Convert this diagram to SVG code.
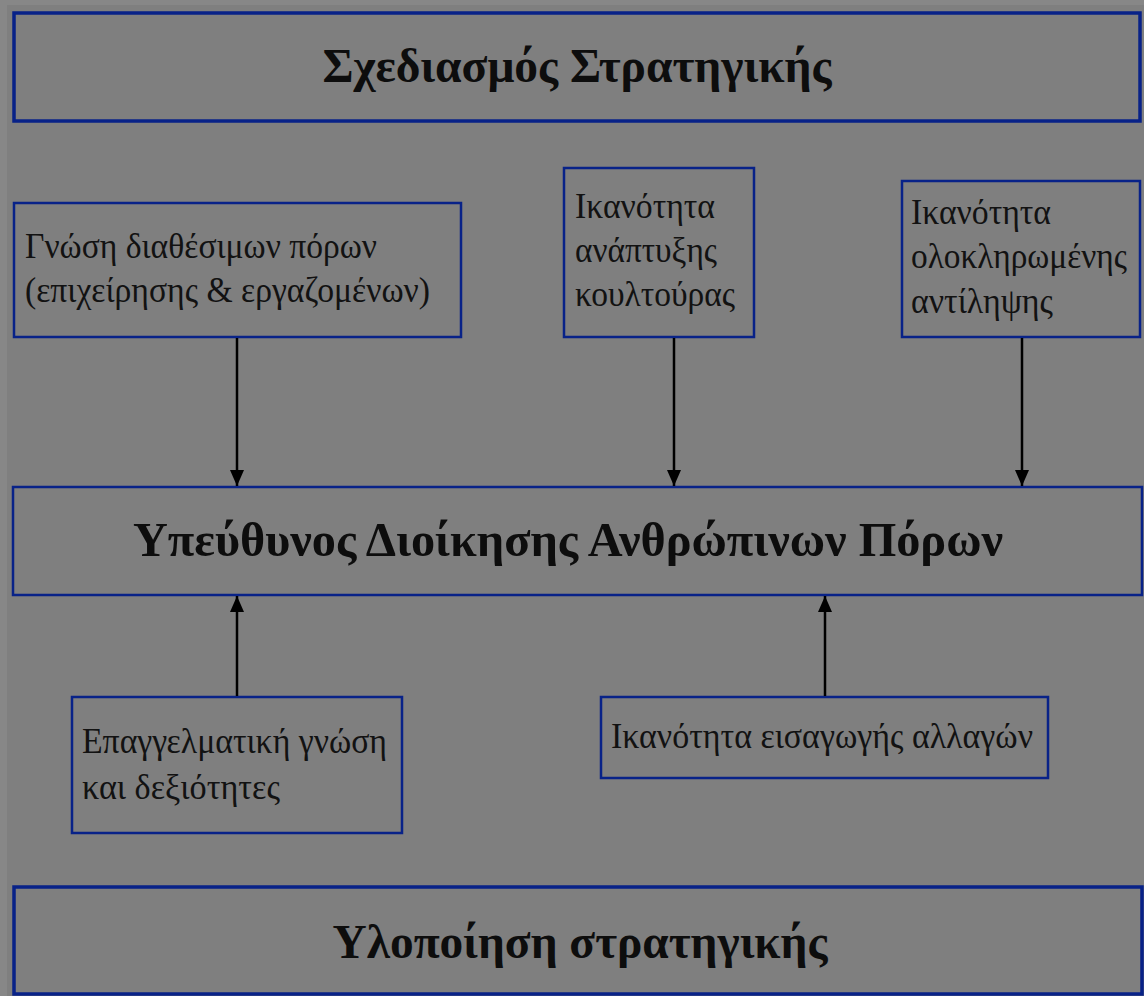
<svg xmlns="http://www.w3.org/2000/svg" width="1144" height="996" viewBox="0 0 1144 996">
  <style>
    .box { fill: #7f7f7f; stroke: #082288; stroke-width: 2.5; }
    .bar { fill: #7f7f7f; stroke: #082288; stroke-width: 3.5; }
    .title { font-family: "Liberation Serif", "Times New Roman", serif; font-weight: bold; font-size: 48px; fill: #0d0d0d; text-anchor: middle; }
    .label { font-family: "Liberation Serif", "Times New Roman", serif; font-size: 35px; fill: #121212; }
    .wire { stroke: #000; stroke-width: 2.5; fill: none; marker-end: url(#head); }
  </style>
  <defs>
    <marker id="head" viewBox="0 0 16 14" refX="16" refY="7" markerWidth="16" markerHeight="14" markerUnits="userSpaceOnUse" orient="auto">
      <path d="M0,0 L16,7 L0,14 Z" fill="#000"/>
    </marker>
  </defs>

  <!-- page -->
  <rect x="0" y="0" width="1144" height="996" fill="#7f7f7f"/>
  <rect x="0" y="0" width="1144" height="5" fill="#878787"/>
  <rect x="0" y="0" width="7" height="996" fill="#878787"/>

  <g id="planning">
    <rect class="bar" x="14" y="13" width="1126" height="108"/>
    <text class="title" x="577" y="82" textLength="509" lengthAdjust="spacingAndGlyphs">Σχεδιασμός Στρατηγικής</text>
  </g>

  <g id="resources">
    <rect class="box" x="14" y="203" width="447" height="134"/>
    <text class="label" x="25" y="258" textLength="352" lengthAdjust="spacingAndGlyphs">Γνώση διαθέσιμων πόρων</text>
    <text class="label" x="25" y="302" textLength="405" lengthAdjust="spacingAndGlyphs">(επιχείρησης &amp; εργαζομένων)</text>
  </g>

  <g id="culture">
    <rect class="box" x="564" y="168" width="190" height="169"/>
    <text class="label" x="575" y="218" textLength="140" lengthAdjust="spacingAndGlyphs">Ικανότητα</text>
    <text class="label" x="575" y="262" textLength="142" lengthAdjust="spacingAndGlyphs">ανάπτυξης</text>
    <text class="label" x="575" y="306" textLength="160" lengthAdjust="spacingAndGlyphs">κουλτούρας</text>
  </g>

  <g id="perception">
    <rect class="box" x="902" y="181" width="238" height="156"/>
    <text class="label" x="911" y="224" textLength="140" lengthAdjust="spacingAndGlyphs">Ικανότητα</text>
    <text class="label" x="911" y="268" textLength="216" lengthAdjust="spacingAndGlyphs">ολοκληρωμένης</text>
    <text class="label" x="911" y="313" textLength="142" lengthAdjust="spacingAndGlyphs">αντίληψης</text>
  </g>

  <g id="hr-manager">
    <rect class="box" x="13" y="487" width="1129" height="108"/>
    <text class="title" x="568" y="556" textLength="870" lengthAdjust="spacingAndGlyphs">Υπεύθυνος Διοίκησης Ανθρώπινων Πόρων</text>
  </g>

  <g id="skills">
    <rect class="box" x="72" y="697" width="330" height="136"/>
    <text class="label" x="82" y="753" textLength="305" lengthAdjust="spacingAndGlyphs">Επαγγελματική γνώση</text>
    <text class="label" x="82" y="799" textLength="198" lengthAdjust="spacingAndGlyphs">και δεξιότητες</text>
  </g>

  <g id="change">
    <rect class="box" x="601" y="697" width="447" height="81"/>
    <text class="label" x="611" y="748" textLength="422" lengthAdjust="spacingAndGlyphs">Ικανότητα εισαγωγής αλλαγών</text>
  </g>

  <g id="implementation">
    <rect class="bar" x="14" y="887" width="1128" height="107"/>
    <text class="title" x="580" y="958" textLength="495" lengthAdjust="spacingAndGlyphs">Υλοποίηση στρατηγικής</text>
  </g>

  <g id="connectors">
    <line class="wire" x1="237" y1="338" x2="237" y2="486"/>
    <line class="wire" x1="674" y1="338" x2="674" y2="486"/>
    <line class="wire" x1="1022" y1="338" x2="1022" y2="486"/>
    <line class="wire" x1="237" y1="696" x2="237" y2="596"/>
    <line class="wire" x1="825" y1="696" x2="825" y2="596"/>
  </g>
</svg>
